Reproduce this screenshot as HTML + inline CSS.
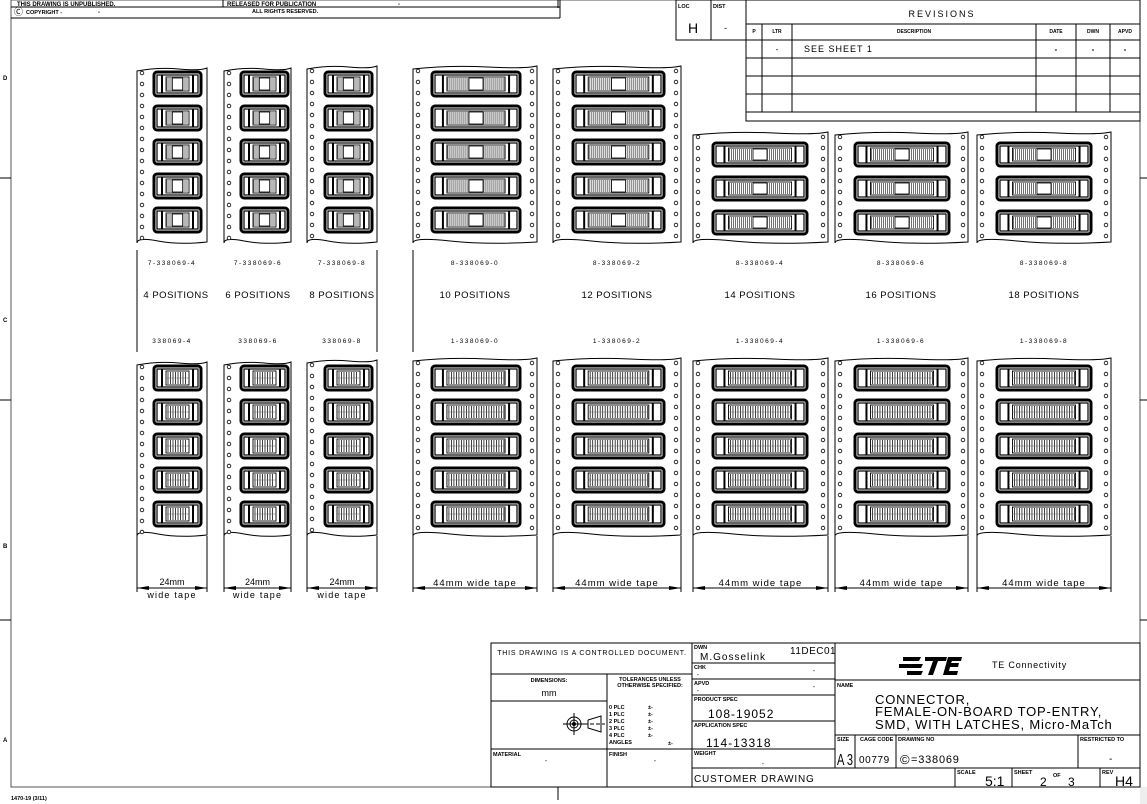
<!DOCTYPE html>
<html><head><meta charset="utf-8">
<style>
html,body{margin:0;padding:0;background:#fff;}
svg{display:block;font-family:"Liberation Sans",sans-serif;}
text{fill:#000;}
</style></head>
<body>
<svg id="s" width="1147" height="804" viewBox="0 0 1147 804" xmlns="http://www.w3.org/2000/svg">
<g stroke="#000" fill="none" stroke-width="1">
<rect x="11" y="0" width="1129" height="787" stroke="#555"/>
<rect x="1140" y="787" width="7" height="17" fill="#eee" stroke="none"/>
<line x1="0" y1="178" x2="11" y2="178"/><line x1="0" y1="400" x2="11" y2="400"/><line x1="0" y1="620" x2="11" y2="620"/>
<line x1="1140" y1="178" x2="1147" y2="178"/><line x1="1140" y1="400" x2="1147" y2="400"/><line x1="1140" y1="620" x2="1147" y2="620"/>
<line x1="558" y1="0" x2="558" y2="8"/><line x1="558" y1="787" x2="558" y2="800"/>
<line x1="11" y1="7" x2="560" y2="7"/><line x1="11" y1="18" x2="560" y2="18"/><line x1="560" y1="0" x2="560" y2="18"/>
<line x1="223" y1="0" x2="223" y2="7"/>
<rect x="676" y="0" width="70" height="40"/><line x1="711" y1="0" x2="711" y2="40"/>
<rect x="746" y="0" width="394" height="121"/>
<line x1="746" y1="24" x2="1140" y2="24"/>
<line x1="746" y1="40" x2="1140" y2="40"/><line x1="746" y1="58" x2="1140" y2="58"/><line x1="746" y1="76" x2="1140" y2="76"/><line x1="746" y1="94" x2="1140" y2="94"/><line x1="746" y1="112" x2="1140" y2="112"/>
<line x1="762" y1="24" x2="762" y2="112"/><line x1="792" y1="24" x2="792" y2="112"/><line x1="1036" y1="24" x2="1036" y2="112"/><line x1="1076" y1="24" x2="1076" y2="112"/><line x1="1110" y1="24" x2="1110" y2="112"/>
<line x1="137" y1="250" x2="137" y2="352"/><line x1="377" y1="250" x2="377" y2="352"/><line x1="413" y1="250" x2="413" y2="352"/>
<rect x="491" y="643" width="649" height="144"/>
<line x1="692" y1="643" x2="692" y2="787"/>
<line x1="491" y1="674" x2="692" y2="674"/><line x1="607" y1="674" x2="607" y2="787"/>
<line x1="491" y1="701" x2="607" y2="701"/><line x1="491" y1="749" x2="692" y2="749"/>
<line x1="692" y1="663" x2="835" y2="663"/><line x1="692" y1="679" x2="835" y2="679"/><line x1="692" y1="695" x2="835" y2="695"/><line x1="692" y1="721" x2="835" y2="721"/><line x1="692" y1="749" x2="835" y2="749"/><line x1="692" y1="768" x2="1140" y2="768"/>
<line x1="835" y1="643" x2="835" y2="768"/>
<line x1="835" y1="680" x2="1140" y2="680"/><line x1="835" y1="735" x2="1140" y2="735"/>
<line x1="855" y1="735" x2="855" y2="768"/><line x1="896" y1="735" x2="896" y2="768"/><line x1="1078" y1="735" x2="1078" y2="768"/>
<line x1="955" y1="768" x2="955" y2="787"/><line x1="1012" y1="768" x2="1012" y2="787"/><line x1="1100" y1="768" x2="1100" y2="787"/>
<circle cx="574" cy="724" r="7"/><circle cx="574" cy="724" r="4"/><circle cx="574" cy="724" r="1.5" fill="#000"/>
<line x1="563" y1="724" x2="585" y2="724"/><line x1="574" y1="713" x2="574" y2="735"/>
<polyline points="588,720 601,716 601,732 588,728 588,720"/>
<line x1="584" y1="724" x2="605" y2="724" stroke-dasharray="4,2"/>
</g>
<g id="parts"></g>
<g font-size="7" font-weight="bold">
<text x="17" y="6" font-size="6">THIS DRAWING IS UNPUBLISHED.</text>
<text x="227" y="6" font-size="6">RELEASED FOR PUBLICATION</text><text x="398" y="6" font-size="6">-</text>
<text x="14" y="15" font-size="9" font-weight="normal">Ⓒ</text><text x="26" y="14" font-size="5.5">COPYRIGHT -</text><text x="98" y="14" font-size="6">-</text>
<text x="252" y="13" font-size="5.5">ALL RIGHTS RESERVED.</text>
<text x="678" y="8" font-size="5.5">LOC</text><text x="713" y="8" font-size="5.5">DIST</text>
<text x="688" y="33" font-size="14" font-weight="normal">H</text><text x="724" y="31" font-size="9" font-weight="normal">-</text>
<text x="942" y="17" font-size="9" font-weight="normal" text-anchor="middle" letter-spacing="2">REVISIONS</text>
<text x="754" y="33" font-size="5" text-anchor="middle">P</text><text x="777" y="33" font-size="5" text-anchor="middle">LTR</text>
<text x="914" y="33" font-size="5" text-anchor="middle">DESCRIPTION</text><text x="1056" y="33" font-size="5" text-anchor="middle">DATE</text>
<text x="1093" y="33" font-size="5" text-anchor="middle">DWN</text><text x="1125" y="33" font-size="5" text-anchor="middle">APVD</text>
<text x="777" y="52" font-size="8" font-weight="normal" text-anchor="middle">-</text>
<text x="804" y="52" font-size="9" font-weight="normal" letter-spacing="1">SEE SHEET 1</text>
<text x="1056" y="52" font-size="8" text-anchor="middle">-</text><text x="1093" y="52" font-size="8" text-anchor="middle">-</text><text x="1125" y="52" font-size="8" text-anchor="middle">-</text>
<text x="3" y="80" font-size="6">D</text><text x="3" y="322" font-size="6">C</text><text x="3" y="548" font-size="6">B</text><text x="3" y="742" font-size="6">A</text>
<text x="11" y="800" font-size="5.5">1470-19 (3/11)</text>
</g>
<g font-size="9.5" text-anchor="middle" letter-spacing="0.5">
<text x="172" y="265" font-size="6.5" letter-spacing="1.5">7-338069-4</text>
<text x="258" y="265" font-size="6.5" letter-spacing="1.5">7-338069-6</text>
<text x="342" y="265" font-size="6.5" letter-spacing="1.5">7-338069-8</text>
<text x="475" y="265" font-size="6.5" letter-spacing="1.5">8-338069-0</text>
<text x="617" y="265" font-size="6.5" letter-spacing="1.5">8-338069-2</text>
<text x="760" y="265" font-size="6.5" letter-spacing="1.5">8-338069-4</text>
<text x="901" y="265" font-size="6.5" letter-spacing="1.5">8-338069-6</text>
<text x="1044" y="265" font-size="6.5" letter-spacing="1.5">8-338069-8</text>
<text x="176" y="298">4 POSITIONS</text><text x="258" y="298">6 POSITIONS</text><text x="342" y="298">8 POSITIONS</text>
<text x="475" y="298">10 POSITIONS</text><text x="617" y="298">12 POSITIONS</text><text x="760" y="298">14 POSITIONS</text>
<text x="901" y="298">16 POSITIONS</text><text x="1044" y="298">18 POSITIONS</text>
<text x="172" y="343" font-size="6.5" letter-spacing="1.5">338069-4</text>
<text x="258" y="343" font-size="6.5" letter-spacing="1.5">338069-6</text>
<text x="342" y="343" font-size="6.5" letter-spacing="1.5">338069-8</text>
<text x="475" y="343" font-size="6.5" letter-spacing="1.5">1-338069-0</text>
<text x="617" y="343" font-size="6.5" letter-spacing="1.5">1-338069-2</text>
<text x="760" y="343" font-size="6.5" letter-spacing="1.5">1-338069-4</text>
<text x="901" y="343" font-size="6.5" letter-spacing="1.5">1-338069-6</text>
<text x="1044" y="343" font-size="6.5" letter-spacing="1.5">1-338069-8</text>
</g>
<g id="dims"></g>
<g>
<text x="592" y="655" font-size="7" text-anchor="middle" letter-spacing="0.8">THIS DRAWING IS A CONTROLLED DOCUMENT.</text>
<text x="549" y="682" font-size="5.5" font-weight="bold" text-anchor="middle">DIMENSIONS:</text>
<text x="549" y="696" font-size="9" text-anchor="middle">mm</text>
<text x="650" y="681" font-size="5.5" font-weight="bold" text-anchor="middle">TOLERANCES UNLESS</text>
<text x="650" y="687" font-size="5.5" font-weight="bold" text-anchor="middle">OTHERWISE SPECIFIED:</text>
<g font-size="5.5" font-weight="bold">
<text x="609" y="709">0 PLC</text><text x="648" y="709">±-</text>
<text x="609" y="716">1 PLC</text><text x="648" y="716">±-</text>
<text x="609" y="723">2 PLC</text><text x="648" y="723">±-</text>
<text x="609" y="730">3 PLC</text><text x="648" y="730">±-</text>
<text x="609" y="737">4 PLC</text><text x="648" y="737">±-</text>
<text x="609" y="744">ANGLES</text><text x="668" y="745">±-</text>
<text x="493" y="756">MATERIAL</text><text x="545" y="762">-</text>
<text x="609" y="756">FINISH</text><text x="654" y="762">-</text>
<text x="694" y="649">DWN</text><text x="694" y="669">CHK</text><text x="694" y="685">APVD</text>
<text x="694" y="701">PRODUCT SPEC</text><text x="694" y="727">APPLICATION SPEC</text><text x="694" y="755">WEIGHT</text>
<text x="837" y="687">NAME</text><text x="837" y="741">SIZE</text><text x="860" y="741">CAGE CODE</text><text x="898" y="741">DRAWING NO</text>
<text x="1080" y="741">RESTRICTED TO</text><text x="957" y="774">SCALE</text><text x="1014" y="774">SHEET</text><text x="1053" y="777">OF</text><text x="1102" y="774">REV</text>
<text x="813" y="672">-</text><text x="813" y="688">-</text><text x="697" y="676">-</text><text x="697" y="692">-</text><text x="762" y="765">-</text>
</g>
<text x="700" y="660" font-size="10" letter-spacing="1">M.Gosselink</text>
<text x="790" y="654" font-size="10" letter-spacing="0.5">11DEC01</text>
<text x="708" y="718" font-size="12" letter-spacing="1">108-19052</text>
<text x="706" y="747" font-size="12" letter-spacing="1">114-13318</text>
<text x="694" y="782" font-size="10" letter-spacing="0.8">CUSTOMER DRAWING</text>
<path d="M903 657 h18 l-2 4 h-16z M899 664 h24 l-2 4 h-22z M907 671 h16 l-2 4 h-14z M925 657 h22 l-1 4 h-8 l-5 14 h-5 l5 -14 h-8z M948 657 h14 l-1 4 h-9 l-1 2 h8 l-1 4 h-8 l-1 4 h9 l-1 4 h-14z" fill="#000"/>
<text x="992" y="668" font-size="9" letter-spacing="0.8">TE Connectivity</text>
<text x="875" y="704" font-size="13" letter-spacing="0.8">CONNECTOR,</text>
<text x="875" y="716" font-size="13" letter-spacing="0.8">FEMALE-ON-BOARD TOP-ENTRY,</text>
<text x="875" y="729" font-size="13" letter-spacing="0.8">SMD, WITH LATCHES, Micro-MaTch</text>
<text x="837" y="765" font-size="16" textLength="16" lengthAdjust="spacingAndGlyphs">A 3</text>
<text x="859" y="763" font-size="10" letter-spacing="0.6">00779</text>
<text x="900" y="764" font-size="13">©</text>
<text x="911" y="763" font-size="11" letter-spacing="0.8">=338069</text>
<text x="1109" y="762" font-size="10">-</text>
<text x="985" y="786" font-size="14">5:1</text>
<text x="1040" y="786" font-size="12">2</text><text x="1068" y="786" font-size="12">3</text>
<text x="1115" y="786" font-size="14">H4</text>
</g>
</svg>
<script>
(function(){
var P=document.getElementById("parts"), D=document.getElementById("dims");
var h="";
function tape(x1,x2,y1,y2,holesR,pw,ph,px,py0,n,type){
  var w=x2-x1;
  h+='<path d="M'+x1+' '+(y1+3)+' Q'+(x1+w*0.3)+' '+(y1-1)+' '+(x1+w*0.6)+' '+(y1+1)+' T'+x2+' '+(y1)+' L'+x2+' '+y2+' Q'+(x1+w*0.6)+' '+(y2+3)+' '+(x1+w*0.3)+' '+(y2-1)+' T'+x1+' '+(y2+1)+' Z" fill="#fff" stroke="#000" stroke-width="1"/>';
  for(var y=y1+5;y<y2-2;y+=11){
    h+='<circle cx="'+(x1+5)+'" cy="'+y+'" r="1.8" fill="#fff" stroke="#000" stroke-width="0.8"/>';
    if(holesR) h+='<circle cx="'+(x2-5)+'" cy="'+y+'" r="1.8" fill="#fff" stroke="#000" stroke-width="0.8"/>';
  }
  for(var i=0;i<n;i++){
    var py=py0+i*34;
    h+='<rect x="'+px+'" y="'+py+'" width="'+pw+'" height="'+ph+'" rx="3" fill="#fff" stroke="#000" stroke-width="3"/>';
    h+='<rect x="'+(px+3)+'" y="'+(py+3)+'" width="'+(pw-6)+'" height="'+(ph-6)+'" fill="none" stroke="#000" stroke-width="1.2"/>';
    var bw=Math.max(5,pw*0.09);
    h+='<line x1="'+(px+3+bw)+'" y1="'+(py+3)+'" x2="'+(px+3+bw)+'" y2="'+(py+ph-3)+'" stroke="#000" stroke-width="2"/>';
    h+='<line x1="'+(px+pw-3-bw)+'" y1="'+(py+3)+'" x2="'+(px+pw-3-bw)+'" y2="'+(py+ph-3)+'" stroke="#000" stroke-width="2"/>';
    var cx1=px+3+bw+4, cx2=px+pw-3-bw-4;
    h+='<rect x="'+cx1+'" y="'+(py+5)+'" width="'+(cx2-cx1)+'" height="'+(ph-10)+'" fill="none" stroke="#000" stroke-width="0.9"/>';
    if(type==0){
      for(var x=cx1+1;x<cx2;x+=2) h+='<line x1="'+x+'" y1="'+(py+6)+'" x2="'+x+'" y2="'+(py+ph-6)+'" stroke="#333" stroke-width="0.7"/>';
      var ww=Math.min(14,(cx2-cx1)*0.45), wc=(cx1+cx2)/2;
      h+='<rect x="'+(wc-ww/2)+'" y="'+(py+6)+'" width="'+ww+'" height="'+(ph-12)+'" fill="#fff" stroke="#000" stroke-width="0.8"/>';
    } else {
      for(var x=cx1+2;x<cx2-1;x+=2.5) h+='<line x1="'+x+'" y1="'+(py+6)+'" x2="'+x+'" y2="'+(py+ph-6)+'" stroke="#111" stroke-width="0.8"/>';
      h+='<line x1="'+cx1+'" y1="'+(py+ph/2)+'" x2="'+cx2+'" y2="'+(py+ph/2)+'" stroke="#666" stroke-width="0.5"/>';
    }
  }
}
tape(137,207,68,242,false,47,24,154,72,5,0);
tape(224,291,68,242,false,47,24,241,72,5,0);
tape(307,377,66,242,false,47,24,325,72,5,0);
tape(413,537,66,242,true,88,24,432,72,5,0);
tape(553,681,66,242,true,91,24,573,72,5,0);
tape(693,828,132,242,true,94,23,713,143,3,0);
tape(835,968,132,242,true,94,23,855,143,3,0);
tape(977,1111,132,242,true,94,23,997,143,3,0);
tape(137,207,362,535,false,47,24,154,366,5,1);
tape(224,291,362,535,false,47,24,241,366,5,1);
tape(307,377,360,535,false,47,24,325,366,5,1);
tape(413,537,358,535,true,88,24,432,366,5,1);
tape(553,681,358,535,true,91,24,573,366,5,1);
tape(693,828,358,535,true,94,24,713,366,5,1);
tape(835,968,358,535,true,94,24,855,366,5,1);
tape(977,1111,358,535,true,94,24,997,366,5,1);
P.innerHTML=h;
var d="";
function dim(x1,x2,big){
  d+='<line x1="'+x1+'" y1="536" x2="'+x1+'" y2="592" stroke="#000"/><line x1="'+x2+'" y1="536" x2="'+x2+'" y2="592" stroke="#000"/>';
  d+='<line x1="'+x1+'" y1="588" x2="'+x2+'" y2="588" stroke="#000"/>';
  d+='<polygon points="'+x1+',588 '+(x1+12)+',586 '+(x1+12)+',590" fill="#000"/><polygon points="'+x2+',588 '+(x2-12)+',586 '+(x2-12)+',590" fill="#000"/>';
  var c=(x1+x2)/2;
  if(big) d+='<text x="'+c+'" y="586" font-size="9.5" text-anchor="middle" letter-spacing="1">44mm wide tape</text>';
  else d+='<text x="'+c+'" y="585" font-size="9" text-anchor="middle">24mm</text><text x="'+c+'" y="598" font-size="9" text-anchor="middle" letter-spacing="1.2">wide tape</text>';
}
dim(137,207,0);dim(224,291,0);dim(307,377,0);
dim(413,537,1);dim(553,681,1);dim(693,828,1);dim(835,968,1);dim(977,1111,1);
D.innerHTML=d;
})();
</script>
</body></html>
